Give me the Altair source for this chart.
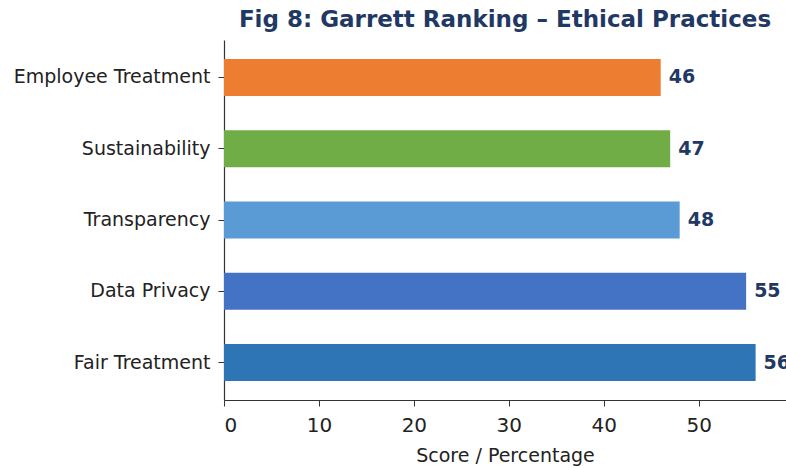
import altair as alt
import pandas as pd

categories = ["Employee Treatment", "Sustainability", "Transparency", "Data Privacy", "Fair Treatment"]
values = [46, 47, 48, 55, 56]
colors = ["#ED7D31", "#70AD47", "#5B9BD5", "#4472C4", "#2E75B6"]

df = pd.DataFrame({"cat": categories, "val": values, "color": colors})

W, H = 562, 360

base = alt.Chart(df).encode(
    y=alt.Y("cat:N", sort=categories, title=None,
            scale=alt.Scale(paddingInner=0.48, paddingOuter=0.265),
            axis=alt.Axis(labelFontSize=19, labelColor="#222222", labelFont="DejaVu Sans",
                          tickSize=6, tickColor="#333333", domainColor="#333333",
                          labelPadding=8, labelLimit=400, domainWidth=1.2)),
)

bars = base.mark_bar().encode(
    x=alt.X("val:Q", title="Score / Percentage",
            scale=alt.Scale(domain=[0, 59.2], nice=False, zero=True),
            axis=alt.Axis(values=[0, 10, 20, 30, 40, 50], grid=False,
                          labelFontSize=20, labelColor="#222222", labelFont="DejaVu Sans",
                          titleFontSize=19, titleFontWeight="normal", titleColor="#222222",
                          titleFont="DejaVu Sans", titlePadding=11,
                          tickSize=6, tickColor="#333333", domainColor="#333333",
                          domainWidth=1.2, labelPadding=9)),
    color=alt.Color("color:N", scale=None),
)

labels = base.mark_text(align="left", baseline="middle", dx=8, fontSize=19,
                        fontWeight="bold", color="#1F3864", font="DejaVu Sans").encode(
    x="val:Q",
    text="val:Q",
)

chart = (bars + labels).properties(
    width=W, height=H,
    title=alt.Title("Fig 8: Garrett Ranking – Ethical Practices", fontSize=23,
                    font="DejaVu Sans", fontWeight="bold", color="#1F3864",
                    anchor="middle", offset=8),
    autosize=alt.AutoSizeParams(type="none"),
    padding={"left": 224, "top": 40, "right": 0, "bottom": 68},
).configure(background="white").configure_view(stroke=None)

chart.save("out.html", embed_options={"renderer": "svg", "actions": False})
